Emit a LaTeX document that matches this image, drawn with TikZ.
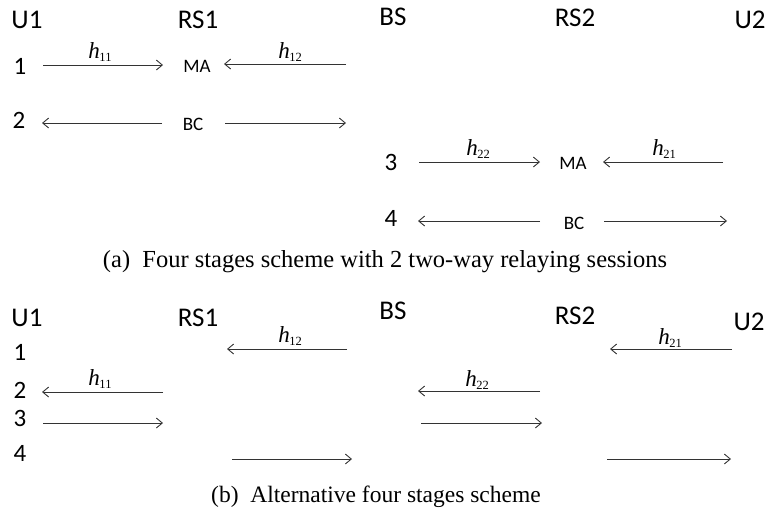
\documentclass[tikz,border=0pt]{standalone}
\usepackage{fontspec}
\setmainfont{Liberation Serif}
\newfontfamily\calfont{Carlito}
\usetikzlibrary{arrows.meta}
\newcommand\hsub[1]{\textit{h}\kern-0.5pt\raisebox{-3pt}{\fontsize{12.5}{12.5}\selectfont #1}}
\tikzset{
  hdr/.style={font=\calfont\fontsize{27}{27}\selectfont, inner sep=0pt},
  num/.style={font=\calfont\fontsize{25}{25}\selectfont, inner sep=0pt},
  mode/.style={font=\calfont\fontsize{19}{19}\selectfont, inner sep=0pt},
  chan/.style={font=\fontsize{23}{23}\selectfont, inner sep=0pt},
  captext/.style={font=\fontsize{24.5}{24.5}\selectfont, inner sep=0pt},
  link/.style={draw=black!80, line width=0.9pt, -{Straight Barb[length=6pt,width=10pt]}},
}
\begin{document}
\begin{tikzpicture}[x=1pt,y=-1pt]
\useasboundingbox (0,0) rectangle (766,515);
% ---------- panel (a) ----------
\node[hdr] (au1) at (27,20) {U1};
\node[hdr] (ars1) at (198,20) {RS1};
\node[hdr] (abs) at (393,17) {BS};
\node[hdr] (ars2) at (575,18) {RS2};
\node[hdr] (au2) at (750,20) {U2};
\node[num] (an1) at (20,66) {1};
\node[num] (an2) at (19,120) {2};
\node[num] (an3) at (391,162) {3};
\node[num] (an4) at (391,218) {4};
\node[mode] (ama1) at (197,66) {MA};
\node[mode] (abc1) at (193,124) {BC};
\node[mode] (ama2) at (573,163) {MA};
\node[mode] (abc2) at (574,223) {BC};
\node[chan] (ah11) at (100,52) {\hsub{11}};
\node[chan] (ah12) at (290,52) {\hsub{12}};
\node[chan] (ah22) at (478,149) {\hsub{22}};
\node[chan] (ah21) at (664,149) {\hsub{21}};
\coordinate (a1s) at (43,65);  \coordinate (a1e) at (163,65);
\coordinate (a2s) at (346,64); \coordinate (a2e) at (224,64);
\coordinate (a3s) at (162,123); \coordinate (a3e) at (42,123);
\coordinate (a4s) at (225,123); \coordinate (a4e) at (346,123);
\coordinate (a5s) at (419,162); \coordinate (a5e) at (540,162);
\coordinate (a6s) at (723,162); \coordinate (a6e) at (603,162);
\coordinate (a7s) at (540,221); \coordinate (a7e) at (418,221);
\coordinate (a8s) at (604,221); \coordinate (a8e) at (727,221);
\foreach \k in {1,...,8} {\draw[link] (a\k s) -- (a\k e);}
\node[captext] (capa) at (385,262) {(a)\ \ Four stages scheme with 2 two-way relaying sessions};
% ---------- panel (b) ----------
\node[hdr] (bu1) at (27,318) {U1};
\node[hdr] (brs1) at (198,318) {RS1};
\node[hdr] (bbs) at (393,311) {BS};
\node[hdr] (brs2) at (575,316) {RS2};
\node[hdr] (bu2) at (749,322) {U2};
\node[num] (bn1) at (20,352) {1};
\node[num] (bn2) at (20,390) {2};
\node[num] (bn3) at (20,418) {3};
\node[num] (bn4) at (20,453) {4};
\node[chan] (bh12) at (290,336) {\hsub{12}};
\node[chan] (bh21) at (670,338) {\hsub{21}};
\node[chan] (bh11) at (100,379) {\hsub{11}};
\node[chan] (bh22) at (477,380) {\hsub{22}};
\coordinate (b1s) at (347,349); \coordinate (b1e) at (227,349);
\coordinate (b2s) at (732,349); \coordinate (b2e) at (610,349);
\coordinate (b3s) at (163,392); \coordinate (b3e) at (42,392);
\coordinate (b4s) at (540,391); \coordinate (b4e) at (418,391);
\coordinate (b5s) at (43,423);  \coordinate (b5e) at (163,423);
\coordinate (b6s) at (421,423); \coordinate (b6e) at (542,423);
\coordinate (b7s) at (232,459); \coordinate (b7e) at (352,459);
\coordinate (b8s) at (607,459); \coordinate (b8e) at (731,459);
\foreach \k in {1,...,8} {\draw[link] (b\k s) -- (b\k e);}
\node[captext, font=\fontsize{23.5}{23.5}\selectfont] (capb) at (376,497) {(b)\ \ Alternative four stages scheme};
\end{tikzpicture}
\end{document}
